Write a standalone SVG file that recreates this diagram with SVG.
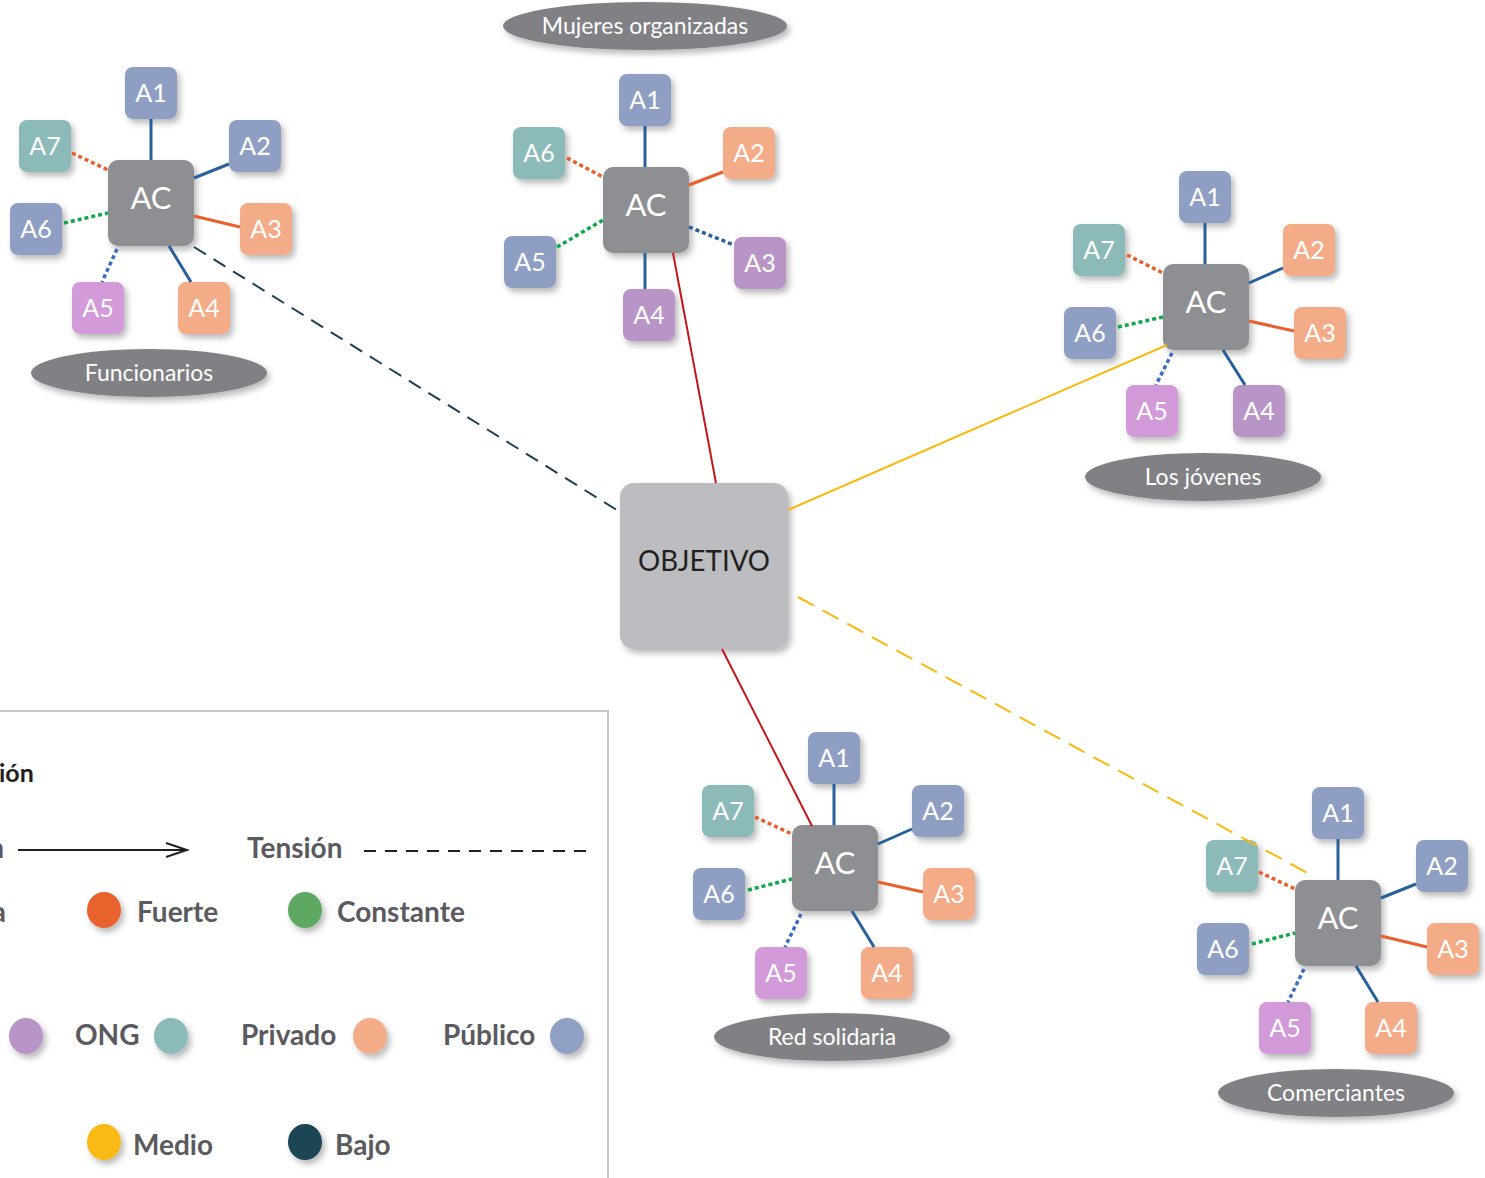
<svg xmlns="http://www.w3.org/2000/svg" width="1485" height="1178" viewBox="0 0 1485 1178">
<defs>
<filter id="sh" x="-30%" y="-30%" width="160%" height="160%">
<feDropShadow dx="3" dy="4" stdDeviation="3" flood-color="#000" flood-opacity="0.28"/>
</filter>
<style>
.ac{fill:#8e8f93;filter:url(#sh)}
.obj{fill:#bcbdc1;filter:url(#sh)}
.el{fill:#808085;filter:url(#sh)}
.bl{fill:#8f9fc4;filter:url(#sh)}
.or{fill:#f4ab88;filter:url(#sh)}
.te{fill:#8bbab9;filter:url(#sh)}
.pu{fill:#b994c6;filter:url(#sh)}
.pk{fill:#d29ad8;filter:url(#sh)}
text{font-family:Lato,"Open Sans","Liberation Sans",sans-serif}
.t{fill:#fff;font-size:25px;text-anchor:middle}
.tac{fill:#fff;font-size:31px;text-anchor:middle}
.tel{fill:#fff;font-size:23px;text-anchor:middle}
.lg{fill:#5a5a5f;font-size:28px;font-weight:bold}
.sb{stroke:#2a6099;stroke-width:3;fill:none}
.so{stroke:#e8602c;stroke-width:3;fill:none}
.db{stroke:#3a6cc0;stroke-width:3.5;stroke-dasharray:4 3;fill:none}
.dbd{stroke:#2a6099;stroke-width:3.5;stroke-dasharray:4 3;fill:none}
.dg{stroke:#0ea84a;stroke-width:3.5;stroke-dasharray:4 3;fill:none}
.do{stroke:#e8602c;stroke-width:3.5;stroke-dasharray:4 3;fill:none}
</style>
</defs>
<rect width="1485" height="1178" fill="#fff"/>

<g id="legend">
<rect x="-10" y="711" width="618" height="480" fill="#fff" stroke="#c6c6c6" stroke-width="2"/>
<text x="-1" y="782" font-size="25" font-weight="bold" fill="#231f20">ión</text>
<text x="4" y="858" text-anchor="end" class="lg">n</text>
<line x1="18" y1="850" x2="186" y2="850" stroke="#231f20" stroke-width="2"/>
<polyline points="166,843 187,850 166,857" fill="none" stroke="#231f20" stroke-width="2"/>
<text x="247" y="858" class="lg">Tensión</text>
<line x1="364" y1="851" x2="590" y2="851" stroke="#231f20" stroke-width="2" stroke-dasharray="12 9"/>
<text x="6" y="922" text-anchor="end" class="lg">a</text>
<ellipse cx="104" cy="910" rx="17" ry="18" fill="#e9622f" filter="url(#sh)"/>
<text x="137" y="922" class="lg">Fuerte</text>
<ellipse cx="305" cy="910" rx="17" ry="18" fill="#5fa862" filter="url(#sh)"/>
<text x="337" y="922" class="lg">Constante</text>
<ellipse cx="26" cy="1036" rx="17" ry="18" fill="#b994c6" filter="url(#sh)"/>
<text x="75" y="1045" class="lg">ONG</text>
<ellipse cx="171" cy="1036" rx="17" ry="18" fill="#8bbab9" filter="url(#sh)"/>
<text x="241" y="1045" class="lg">Privado</text>
<ellipse cx="370" cy="1036" rx="17" ry="18" fill="#f3ab88" filter="url(#sh)"/>
<text x="443" y="1045" class="lg">Público</text>
<ellipse cx="567" cy="1036" rx="17" ry="18" fill="#909fc4" filter="url(#sh)"/>
<ellipse cx="104" cy="1142" rx="17" ry="18" fill="#fbb915" filter="url(#sh)"/>
<text x="133" y="1155" class="lg">Medio</text>
<ellipse cx="305" cy="1142" rx="17" ry="18" fill="#1f4457" filter="url(#sh)"/>
<text x="335" y="1155" class="lg">Bajo</text>
</g>

<g id="objetivo">
<rect class="obj" x="620" y="483" width="168" height="166" rx="14"/>
<text x="704" y="571" font-size="29" fill="#231f20" text-anchor="middle" textLength="132" lengthAdjust="spacingAndGlyphs">OBJETIVO</text>
</g>

<g id="funcionarios">
<ellipse class="el" cx="149" cy="373" rx="118" ry="24"/>
<text class="tel" x="149" y="381">Funcionarios</text>
<rect class="ac" x="108" y="160" width="86" height="86" rx="10"/><text class="tac" x="151" y="209">AC</text>
<rect class="bl" x="125" y="67" width="52" height="52" rx="8"/><text class="t" x="151" y="102">A1</text>
<rect class="bl" x="229" y="120" width="52" height="52" rx="8"/><text class="t" x="255" y="155">A2</text>
<rect class="or" x="240" y="203" width="52" height="52" rx="8"/><text class="t" x="266" y="238">A3</text>
<rect class="or" x="178" y="282" width="52" height="52" rx="8"/><text class="t" x="204" y="317">A4</text>
<rect class="pk" x="72" y="282" width="52" height="52" rx="8"/><text class="t" x="98" y="317">A5</text>
<rect class="bl" x="10" y="203" width="52" height="52" rx="8"/><text class="t" x="36" y="238">A6</text>
<rect class="te" x="19" y="120" width="52" height="52" rx="8"/><text class="t" x="45" y="155">A7</text>
</g>

<g id="mujeres">
<ellipse class="el" cx="645" cy="26" rx="142" ry="24"/>
<text class="tel" x="645" y="34">Mujeres organizadas</text>
<rect class="ac" x="603" y="167" width="86" height="86" rx="10"/><text class="tac" x="646" y="216">AC</text>
<rect class="bl" x="619" y="74" width="52" height="52" rx="8"/><text class="t" x="645" y="109">A1</text>
<rect class="or" x="723" y="127" width="52" height="52" rx="8"/><text class="t" x="749" y="162">A2</text>
<rect class="pu" x="734" y="237" width="52" height="52" rx="8"/><text class="t" x="760" y="272">A3</text>
<rect class="pu" x="623" y="289" width="52" height="52" rx="8"/><text class="t" x="649" y="324">A4</text>
<rect class="bl" x="504" y="236" width="52" height="52" rx="8"/><text class="t" x="530" y="271">A5</text>
<rect class="te" x="513" y="127" width="52" height="52" rx="8"/><text class="t" x="539" y="162">A6</text>
</g>

<g id="jovenes">
<ellipse class="el" cx="1203" cy="477" rx="118" ry="24"/>
<text class="tel" x="1203" y="485">Los jóvenes</text>
<rect class="ac" x="1163" y="264" width="86" height="86" rx="10"/><text class="tac" x="1206" y="313">AC</text>
<rect class="bl" x="1179" y="171" width="52" height="52" rx="8"/><text class="t" x="1205" y="206">A1</text>
<rect class="or" x="1283" y="224" width="52" height="52" rx="8"/><text class="t" x="1309" y="259">A2</text>
<rect class="or" x="1294" y="307" width="52" height="52" rx="8"/><text class="t" x="1320" y="342">A3</text>
<rect class="pu" x="1233" y="385" width="52" height="52" rx="8"/><text class="t" x="1259" y="420">A4</text>
<rect class="pk" x="1126" y="385" width="52" height="52" rx="8"/><text class="t" x="1152" y="420">A5</text>
<rect class="bl" x="1064" y="307" width="52" height="52" rx="8"/><text class="t" x="1090" y="342">A6</text>
<rect class="te" x="1073" y="224" width="52" height="52" rx="8"/><text class="t" x="1099" y="259">A7</text>
</g>

<g id="red-solidaria">
<ellipse class="el" cx="832" cy="1037" rx="118" ry="24"/>
<text class="tel" x="832" y="1045">Red solidaria</text>
<rect class="ac" x="792" y="825" width="86" height="86" rx="10"/><text class="tac" x="835" y="874">AC</text>
<rect class="bl" x="808" y="732" width="52" height="52" rx="8"/><text class="t" x="834" y="767">A1</text>
<rect class="bl" x="912" y="785" width="52" height="52" rx="8"/><text class="t" x="938" y="820">A2</text>
<rect class="or" x="923" y="868" width="52" height="52" rx="8"/><text class="t" x="949" y="903">A3</text>
<rect class="or" x="861" y="947" width="52" height="52" rx="8"/><text class="t" x="887" y="982">A4</text>
<rect class="pk" x="755" y="947" width="52" height="52" rx="8"/><text class="t" x="781" y="982">A5</text>
<rect class="bl" x="693" y="868" width="52" height="52" rx="8"/><text class="t" x="719" y="903">A6</text>
<rect class="te" x="702" y="785" width="52" height="52" rx="8"/><text class="t" x="728" y="820">A7</text>
</g>

<g id="comerciantes">
<ellipse class="el" cx="1336" cy="1093" rx="118" ry="24"/>
<text class="tel" x="1336" y="1101">Comerciantes</text>
<rect class="ac" x="1295" y="880" width="86" height="86" rx="10"/><text class="tac" x="1338" y="929">AC</text>
<rect class="bl" x="1312" y="787" width="52" height="52" rx="8"/><text class="t" x="1338" y="822">A1</text>
<rect class="bl" x="1416" y="840" width="52" height="52" rx="8"/><text class="t" x="1442" y="875">A2</text>
<rect class="or" x="1427" y="923" width="52" height="52" rx="8"/><text class="t" x="1453" y="958">A3</text>
<rect class="or" x="1365" y="1002" width="52" height="52" rx="8"/><text class="t" x="1391" y="1037">A4</text>
<rect class="pk" x="1259" y="1002" width="52" height="52" rx="8"/><text class="t" x="1285" y="1037">A5</text>
<rect class="bl" x="1197" y="923" width="52" height="52" rx="8"/><text class="t" x="1223" y="958">A6</text>
<rect class="te" x="1206" y="840" width="52" height="52" rx="8"/><text class="t" x="1232" y="875">A7</text>
</g>

<g id="connectors">
<line x1="194" y1="247" x2="620" y2="512" stroke="#1f3f55" stroke-width="2" stroke-dasharray="14 9"/>
<line x1="673" y1="253" x2="716" y2="483" stroke="#c4161c" stroke-width="2"/>
<line x1="788" y1="510" x2="1167" y2="345" stroke="#f9b90e" stroke-width="2"/>
<line x1="722" y1="649" x2="812" y2="826" stroke="#c4161c" stroke-width="2"/>
<line x1="798" y1="597" x2="1313" y2="876" stroke="#f9b90e" stroke-width="2" stroke-dasharray="18 10"/>
<line class="sb" x1="151" y1="119" x2="151" y2="160"/>
<line class="sb" x1="194" y1="178" x2="229" y2="164"/>
<line class="so" x1="194" y1="216" x2="240" y2="227"/>
<line class="sb" x1="169" y1="246" x2="191" y2="282"/>
<line class="db" x1="117" y1="249" x2="102" y2="282"/>
<line class="dg" x1="64" y1="223" x2="108" y2="213"/>
<line class="do" x1="72" y1="153" x2="108" y2="170"/>
<line class="sb" x1="645" y1="126" x2="645" y2="167"/>
<line class="so" x1="689" y1="185" x2="723" y2="172"/>
<line class="dbd" x1="689" y1="227" x2="734" y2="245"/>
<line class="sb" x1="645" y1="253" x2="645" y2="289"/>
<line class="dg" x1="557" y1="247" x2="603" y2="220"/>
<line class="do" x1="567" y1="158" x2="603" y2="177"/>
<line class="sb" x1="1205" y1="223" x2="1205" y2="264"/>
<line class="sb" x1="1249" y1="283" x2="1283" y2="268"/>
<line class="so" x1="1249" y1="321" x2="1294" y2="331"/>
<line class="sb" x1="1223" y1="350" x2="1245" y2="385"/>
<line class="db" x1="1172" y1="353" x2="1156" y2="385"/>
<line class="dg" x1="1118" y1="327" x2="1163" y2="317"/>
<line class="do" x1="1127" y1="255" x2="1163" y2="273"/>
<line class="sb" x1="834" y1="784" x2="834" y2="825"/>
<line class="sb" x1="878" y1="844" x2="912" y2="829"/>
<line class="so" x1="878" y1="882" x2="923" y2="892"/>
<line class="sb" x1="852" y1="911" x2="874" y2="947"/>
<line class="db" x1="801" y1="914" x2="785" y2="947"/>
<line class="dg" x1="748" y1="890" x2="792" y2="879"/>
<line class="do" x1="755" y1="817" x2="792" y2="834"/>
<line class="sb" x1="1338" y1="839" x2="1338" y2="880"/>
<line class="sb" x1="1381" y1="898" x2="1416" y2="884"/>
<line class="so" x1="1381" y1="936" x2="1427" y2="947"/>
<line class="sb" x1="1356" y1="966" x2="1378" y2="1002"/>
<line class="db" x1="1304" y1="969" x2="1288" y2="1002"/>
<line class="dg" x1="1252" y1="944" x2="1295" y2="933"/>
<line class="do" x1="1259" y1="872" x2="1295" y2="889"/>
</g>
</svg>
